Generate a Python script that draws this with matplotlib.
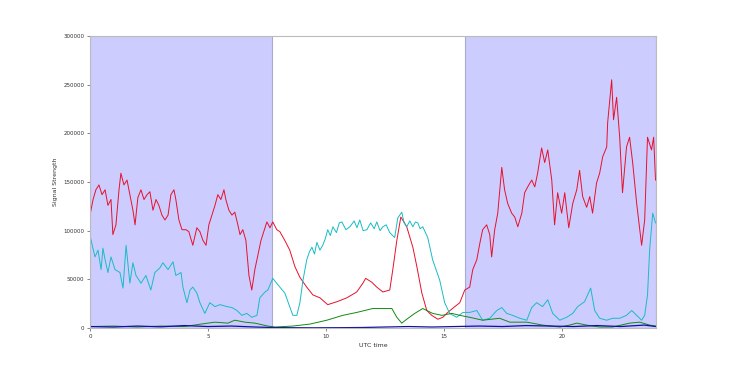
import matplotlib
matplotlib.use("Agg")
import matplotlib.pyplot as plt

# ---- data (hours, signal strength) ----
red_t = [0.00, 0.13, 0.25, 0.38, 0.51, 0.64, 0.76, 0.89, 0.97, 1.10, 1.23, 1.31, 1.44, 1.57, 1.69,
         1.82, 1.91, 2.03, 2.16, 2.29, 2.42, 2.54, 2.67, 2.80, 2.92, 3.05, 3.18, 3.31, 3.43, 3.56,
         3.64, 3.77, 3.90, 4.07, 4.19, 4.36, 4.53, 4.66, 4.79, 4.92, 5.04, 5.17, 5.30, 5.42, 5.55,
         5.68, 5.76, 5.89, 6.02, 6.14, 6.27, 6.36, 6.48, 6.61, 6.74, 6.86, 6.99, 7.12, 7.25, 7.37,
         7.50, 7.63, 7.75, 7.92, 8.05, 8.26, 8.47, 8.69, 8.90, 9.19, 9.45, 9.75, 10.08, 10.47, 10.89,
         11.31, 11.57, 11.69, 11.95, 12.16, 12.42, 12.71, 12.84, 13.01, 13.18, 13.31, 13.43, 13.69,
         13.86, 14.07, 14.28, 14.49, 14.75, 14.96, 15.17, 15.47, 15.68, 15.89, 16.10, 16.23, 16.40,
         16.53, 16.65, 16.82, 16.95, 17.03, 17.16, 17.29, 17.46, 17.58, 17.71, 17.88, 18.01, 18.14,
         18.31, 18.43, 18.56, 18.73, 18.86, 18.98, 19.15, 19.28, 19.41, 19.58, 19.70, 19.83, 20.00,
         20.13, 20.30, 20.47, 20.64, 20.76, 20.89, 21.06, 21.19, 21.31, 21.48, 21.61, 21.74, 21.91,
         21.95, 22.12, 22.20, 22.33, 22.46, 22.58, 22.75, 22.88, 23.01, 23.18, 23.31, 23.39, 23.52,
         23.64, 23.81, 23.90, 23.98]
red_v = [116000, 132000, 142000, 147000, 137000, 142000, 126000, 132000, 96000, 106000, 142000,
         159000, 147000, 152000, 137000, 121000, 106000, 134000, 142000, 132000, 137000, 140000,
         121000, 132000, 126000, 116000, 111000, 116000, 137000, 142000, 132000, 111000, 101000,
         101000, 99000, 85000, 103000, 99000, 90000, 85000, 106000, 116000, 126000, 137000, 132000,
         142000, 132000, 121000, 116000, 119000, 106000, 96000, 101000, 90000, 54000, 39000, 60000,
         75000, 90000, 99000, 109000, 103000, 109000, 101000, 99000, 90000, 80000, 63000, 52000,
         42000, 34000, 31000, 24000, 27000, 31000, 37000, 46000, 51000, 47000, 42000, 37000, 39000,
         60000, 90000, 114000, 109000, 104000, 83000, 63000, 36000, 18000, 13000, 9000, 11000,
         16000, 22000, 26000, 39000, 42000, 60000, 70000, 87000, 101000, 106000, 96000, 73000,
         101000, 118000, 165000, 142000, 128000, 118000, 114000, 104000, 118000, 139000, 145000,
         152000, 145000, 159000, 185000, 170000, 183000, 152000, 106000, 139000, 118000, 139000,
         103000, 128000, 142000, 162000, 135000, 124000, 135000, 118000, 149000, 159000, 176000,
         186000, 211000, 255000, 214000, 237000, 196000, 139000, 186000, 196000, 170000, 128000,
         101000, 85000, 111000, 196000, 183000, 196000, 152000]

cyan_t = [0.00, 0.21, 0.34, 0.47, 0.55, 0.64, 0.76, 0.89, 1.06, 1.27, 1.40, 1.53, 1.69, 1.82, 1.95,
          2.16, 2.37, 2.58, 2.75, 2.97, 3.09, 3.31, 3.52, 3.64, 3.86, 3.94, 4.11, 4.24, 4.36, 4.53,
          4.66, 4.87, 5.08, 5.30, 5.51, 5.81, 6.02, 6.23, 6.44, 6.65, 6.86, 7.08, 7.20, 7.42, 7.54,
          7.75, 8.05, 8.26, 8.47, 8.60, 8.77, 8.90, 9.03, 9.19, 9.30, 9.41, 9.52, 9.62, 9.75, 9.87,
          9.98, 10.08, 10.19, 10.30, 10.45, 10.57, 10.68, 10.85, 11.02, 11.20, 11.32, 11.44, 11.58,
          11.74, 11.90, 12.05, 12.16, 12.30, 12.42, 12.56, 12.71, 12.92, 13.05, 13.22, 13.32, 13.43,
          13.56, 13.69, 13.80, 13.90, 14.00, 14.11, 14.32, 14.53, 14.83, 15.04, 15.25, 15.55, 15.81,
          16.10, 16.40, 16.65, 16.95, 17.25, 17.46, 17.67, 17.92, 18.22, 18.52, 18.73, 18.94, 19.19,
          19.41, 19.62, 19.92, 20.21, 20.47, 20.68, 20.97, 21.23, 21.40, 21.61, 21.91, 22.16, 22.46,
          22.75, 22.97, 23.18, 23.39, 23.52, 23.64, 23.73, 23.86, 23.98]
cyan_v = [95000, 73000, 80000, 60000, 82000, 70000, 57000, 73000, 60000, 57000, 41000, 85000,
          46000, 67000, 54000, 46000, 54000, 39000, 57000, 62000, 67000, 60000, 68000, 54000, 57000,
          42000, 26000, 39000, 42000, 36000, 26000, 15000, 26000, 22000, 24000, 22000, 21000, 18000,
          13000, 15000, 11000, 13000, 31000, 37000, 39000, 51000, 42000, 36000, 22000, 13000, 13000,
          26000, 49000, 70000, 78000, 83000, 76000, 88000, 80000, 85000, 92000, 101000, 95000,
          104000, 98000, 108000, 109000, 101000, 104000, 110000, 103000, 111000, 100000, 101000,
          108000, 102000, 109000, 100000, 104000, 106000, 98000, 93000, 113000, 119000, 108000,
          104000, 110000, 104000, 109000, 108000, 102000, 104000, 93000, 70000, 49000, 26000, 15000,
          11000, 16000, 16000, 18000, 8000, 10000, 18000, 21000, 15000, 13000, 10000, 8000, 21000,
          26000, 22000, 29000, 15000, 8000, 11000, 15000, 22000, 27000, 41000, 18000, 10000, 8000,
          10000, 10000, 13000, 18000, 13000, 8000, 13000, 34000, 80000, 118000, 108000]

green_t = [0.0, 1.0, 2.0, 3.0, 4.0, 4.70, 5.30, 5.85, 6.14, 6.57, 6.99, 7.54, 7.84, 8.60, 9.32,
           10.04, 10.72, 11.31, 11.99, 12.80, 13.01, 13.22, 13.43, 13.77, 14.11, 14.53, 14.92,
           15.34, 15.68, 16.10, 16.65, 17.37, 17.80, 18.52, 19.19, 19.92, 20.34, 20.64, 21.06,
           21.61, 22.16, 22.88, 23.31, 23.73, 23.98]
green_v = [1500, 2000, 1000, 2000, 1500, 4000, 6000, 5000, 8000, 6000, 5000, 2000, 1000, 2000,
           4000, 8000, 13000, 16000, 20000, 20000, 11000, 5000, 9000, 15000, 20000, 15000, 13000,
           15000, 13000, 11000, 8000, 10000, 6000, 6000, 3000, 1000, 3000, 5000, 3000, 1000, 1000,
           5000, 6000, 3000, 2000]

blue_t = [0.0, 1.0, 2.0, 3.0, 4.0, 5.0, 6.0, 7.0, 7.7, 8.5, 9.5, 10.5, 11.5, 12.5, 13.5, 14.5,
          15.5, 16.5, 17.5, 18.5, 19.5, 20.5, 21.5, 22.5, 23.5, 24.0]
blue_v = [1500, 1000, 2000, 1200, 2500, 1500, 2000, 1000, 500, 300, 200, 300, 500, 1000, 1500,
          1000, 1500, 2000, 1500, 2500, 2000, 1500, 2500, 1500, 3000, 1500]

night_spans = [(0.0, 7.7), (15.9, 24.0)]
x_ticks = [0, 5, 10, 15, 20]
y_ticks = [0, 50000, 100000, 150000, 200000, 250000, 300000]

fig = plt.figure(figsize=(7.3, 3.65), dpi=100)
ax = fig.add_axes([90 / 730, 37 / 365, 566 / 730, 292 / 365])

for a, b in night_spans:
    ax.axvspan(a, b, facecolor="#ccccff", edgecolor="#aaaacc", linewidth=0.8, zorder=0)

ax.plot(red_t, red_v, color="#e8102a", lw=0.7)
ax.plot(cyan_t, cyan_v, color="#18bcc4", lw=0.7)
ax.plot(green_t, green_v, color="#128a12", lw=0.7)
ax.plot(blue_t, blue_v, color="#1010a0", lw=0.9)

ax.set_xlim(0, 24)
ax.set_ylim(0, 300000)
ax.set_xticks(x_ticks)
ax.set_xticklabels([str(t) for t in x_ticks])
ax.set_yticks(y_ticks)
ax.set_yticklabels([str(t) for t in y_ticks])
ax.tick_params(labelsize=4, length=2, width=0.5, color="#555555", pad=2, labelcolor="#333333")
for s in ax.spines.values():
    s.set_color("#bbbbbb")
    s.set_linewidth(0.8)

ax.set_xlabel("UTC time", fontsize=4.5, labelpad=3, color="#333333")
ax.set_ylabel("Signal Strength", fontsize=4.5, labelpad=4, color="#333333")

fig.savefig("out.png", dpi=100)
